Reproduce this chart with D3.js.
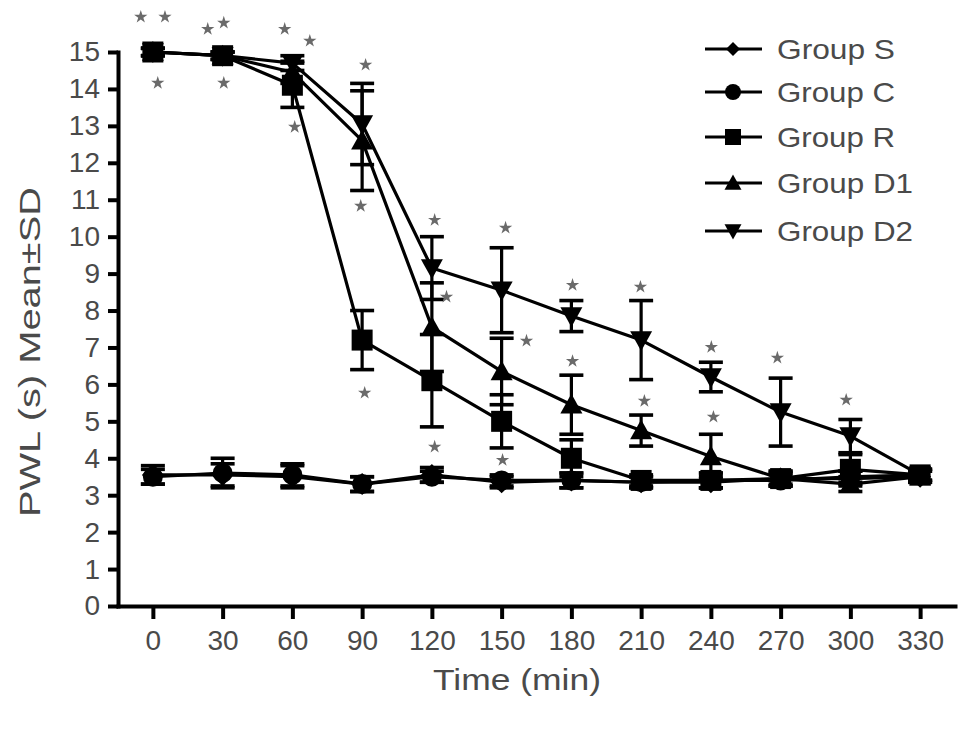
<!DOCTYPE html>
<html>
<head>
<meta charset="utf-8">
<script src="https://cdn.jsdelivr.net/npm/d3@7"></script>
<style>
  html, body { margin: 0; padding: 0; background: #fff; }
  svg { display: block; }
  text { font-family: "Liberation Sans", Arial, Helvetica, sans-serif; }
</style>
</head>
<body>
<svg id="chart" width="969" height="735"></svg>
<script>
// ---------- data ----------
const times = [0, 30, 60, 90, 120, 150, 180, 210, 240, 270, 300, 330];
const yTicks = [0,1,2,3,4,5,6,7,8,9,10,11,12,13,14,15];

const seriesNames = ["Group S", "Group C", "Group R", "Group D1", "Group D2"];
const seriesShapes = ["diamond", "circle", "square", "triangleUp", "triangleDown"];

const groupS  = [3.55, 3.55, 3.5, 3.3, 3.55, 3.35, 3.4, 3.35, 3.35, 3.45, 3.45, 3.5];
const groupC  = [3.5, 3.6, 3.55, 3.3, 3.5, 3.4, 3.4, 3.35, 3.4, 3.4, 3.5, 3.55];
const groupR  = [15, 14.9, 14.1, 7.2, 6.1, 5.0, 4.0, 3.4, 3.4, 3.45, 3.7, 3.55];
const groupD1 = [15, 14.9, 14.45, 12.6, 7.55, 6.35, 5.45, 4.75, 4.05, 3.45, 3.3, 3.5];
const groupD2 = [15, 14.9, 14.7, 13.05, 9.15, 8.55, 7.85, 7.2, 6.2, 5.25, 4.6, 3.55];

const sdS  = [0.25, 0.3, 0.3, 0.2, 0.2, 0.15, 0.2, 0.15, 0.15, 0.2, 0.2, 0.15];
const sdC  = [0.2, 0.4, 0.3, 0.2, 0.15, 0.15, 0.2, 0.15, 0.2, 0.15, 0.15, 0.15];
const sdR  = [0.1, 0.1, 0.6, 0.8, 1.25, 0.72, 0.5, 0.15, 0.2, 0.2, 0.4, 0.15];
const sdD1 = [0.1, 0.1, 0.3, 1.35, 1.2, 0.9, 0.8, 0.42, 0.6, 0.15, 0.2, 0.15];
const sdD2 = [0.1, 0.1, 0.2, 1.1, 0.85, 1.15, 0.42, 1.07, 0.4, 0.92, 0.45, 0.15];

// significance stars: [time, value]
const stars = [
  [-5.2, 15.95], [5.2, 15.95], [2.1, 14.16],
  [23.6, 15.62], [30.5, 15.79], [30.5, 14.16],
  [56.7, 15.62], [67.5, 15.3], [61, 12.97],
  [91.5, 14.65], [89.4, 10.83], [91.1, 5.77],
  [121.2, 10.45], [126.3, 8.37], [121.2, 4.31],
  [151.7, 10.24], [160.7, 7.18], [150.4, 3.95],
  [180.5, 8.69], [180.5, 6.63],
  [209.7, 8.64], [211.4, 5.55],
  [240.2, 7.01], [241.1, 5.12],
  [268.6, 6.72], [298.2, 5.58]
];

const xLabel = "Time (min)";
const yLabel = "PWL (s) Mean±SD";

// ---------- build ----------
const allMeans = [groupS, groupC, groupR, groupD1, groupD2];
const allSDs = [sdS, sdC, sdR, sdD1, sdD2];
const series = seriesNames.map((name, i) => ({
  name, shape: seriesShapes[i],
  points: times.map((t, j) => ({ t, v: allMeans[i][j], sd: allSDs[i][j] }))
}));

const svg = d3.select("#chart");
const x = d3.scaleLinear().domain([-15, 345]).range([118, 955]);
const y = d3.scaleLinear().domain([0, 15]).range([606, 52]);

const textColor = "#4a4a4a";

// axes
const yAxis = svg.append("g").attr("transform", `translate(${x(-15)},0)`)
  .call(d3.axisLeft(y).tickValues(yTicks).tickSize(10).tickSizeOuter(0).tickPadding(8).tickFormat(d3.format("d")));
const xAxis = svg.append("g").attr("transform", `translate(0,${y(0)})`)
  .call(d3.axisBottom(x).tickValues(times).tickSize(13).tickSizeOuter(0).tickPadding(11).tickFormat(d3.format("d")));

[yAxis, xAxis].forEach(g => {
  g.select(".domain").attr("stroke", "#000").attr("stroke-width", 4).attr("stroke-linecap", "square");
  g.selectAll(".tick line").attr("stroke", "#000").attr("stroke-width", 4);
  g.selectAll(".tick text").attr("fill", textColor).attr("font-size", 28)
    .attr("font-family", '"Liberation Sans", Arial, sans-serif');
});

// axis titles
svg.append("text")
  .attr("x", 517).attr("y", 690)
  .attr("text-anchor", "middle")
  .attr("font-size", 30).attr("fill", textColor)
  .attr("textLength", 168).attr("lengthAdjust", "spacingAndGlyphs")
  .text(xLabel);

svg.append("text")
  .attr("transform", `translate(40, 352) rotate(-90)`)
  .attr("text-anchor", "middle")
  .attr("font-size", 30).attr("fill", textColor)
  .attr("textLength", 330).attr("lengthAdjust", "spacingAndGlyphs")
  .text(yLabel);

// marker path generator
function markerPath(shape, s) {
  const h = s / 2;
  switch (shape) {
    case "diamond": return `M0,${-h}L${h},0L0,${h}L${-h},0Z`;
    case "circle": return d3.symbol().type(d3.symbolCircle).size(Math.PI * h * h)();
    case "square": return `M${-h},${-h}H${h}V${h}H${-h}Z`;
    case "triangleUp": return `M0,${-h}L${h},${h * 0.8}L${-h},${h * 0.8}Z`;
    case "triangleDown": return `M0,${h}L${h},${-h * 0.8}L${-h},${-h * 0.8}Z`;
  }
}
const markerSize = { diamond: 22, circle: 20, square: 21, triangleUp: 22, triangleDown: 22 };

const line = d3.line().x(d => x(d.t)).y(d => y(d.v));
const plot = svg.append("g");

// lines
series.forEach(s => {
  plot.append("path").datum(s.points)
    .attr("d", line).attr("fill", "none")
    .attr("stroke", "#000").attr("stroke-width", 3.2).attr("stroke-linejoin", "round");
});

// error bars
const capW = 12;
series.forEach(s => {
  const g = plot.append("g");
  s.points.forEach(p => {
    const cx = x(p.t), yt = y(p.v + p.sd), yb = y(p.v - p.sd);
    g.append("line").attr("x1", cx).attr("x2", cx).attr("y1", yt).attr("y2", yb)
      .attr("stroke", "#000").attr("stroke-width", 3.2);
    g.append("line").attr("x1", cx - capW).attr("x2", cx + capW).attr("y1", yt).attr("y2", yt)
      .attr("stroke", "#000").attr("stroke-width", 3.6);
    g.append("line").attr("x1", cx - capW).attr("x2", cx + capW).attr("y1", yb).attr("y2", yb)
      .attr("stroke", "#000").attr("stroke-width", 3.6);
  });
});

// markers
series.forEach(s => {
  plot.append("g").selectAll("path").data(s.points).join("path")
    .attr("transform", d => `translate(${x(d.t)},${y(d.v)})`)
    .attr("d", markerPath(s.shape, markerSize[s.shape]))
    .attr("fill", "#000");
});

// stars
svg.append("g").selectAll("path").data(stars).join("path")
  .attr("transform", d => `translate(${x(d[0])},${y(d[1])})`)
  .attr("d", d3.symbol().type(d3.symbolStar).size(55)())
  .attr("fill", "#6a6a6a");

// legend
const legendRows = [49, 92, 137, 183, 231];
const legendMarker = { diamond: 14, circle: 16, square: 16, triangleUp: 17, triangleDown: 17 };
const legend = svg.append("g");
series.forEach((s, i) => {
  const ly = legendRows[i];
  legend.append("line").attr("x1", 705).attr("x2", 762).attr("y1", ly).attr("y2", ly)
    .attr("stroke", "#000").attr("stroke-width", 3);
  legend.append("path").attr("transform", `translate(733,${ly})`)
    .attr("d", markerPath(s.shape, legendMarker[s.shape])).attr("fill", "#000");
  legend.append("text").attr("x", 777).attr("y", ly + 10)
    .attr("font-size", 28).attr("fill", textColor)
    .attr("textLength", s.name.length > 7 ? 136 : 118).attr("lengthAdjust", "spacingAndGlyphs")
    .text(s.name);
});
</script>
</body>
</html>
